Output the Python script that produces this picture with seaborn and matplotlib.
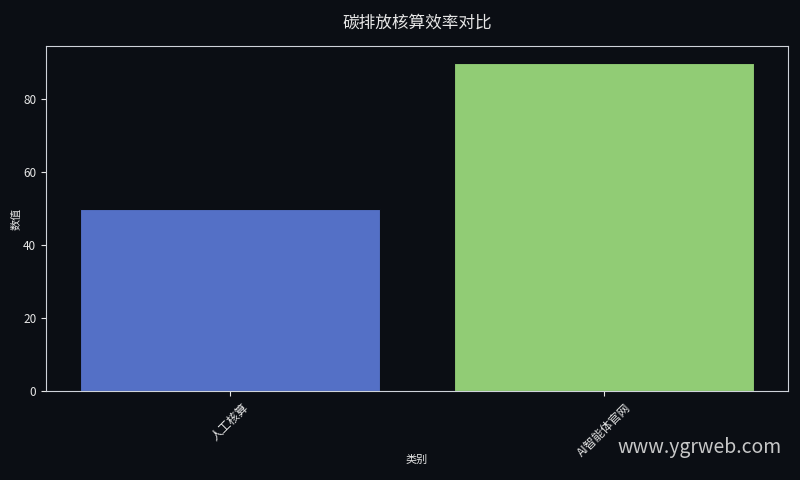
import matplotlib
matplotlib.use('Agg')
import matplotlib.pyplot as plt
import pandas as pd
import seaborn as sns

categories = ['人工核算', 'AI智能体官网']
values = [50, 90]
colors = ['#5470c6', '#91cc75']

bg = '#0b0e14'
fg = '#e6e6e6'

sns.set_style('dark')
plt.rcParams['font.family'] = ['Noto Sans CJK SC', 'DejaVu Sans']
plt.rcParams['axes.unicode_minus'] = False

df = pd.DataFrame({'类别': categories, '数值': values})

fig, ax = plt.subplots(figsize=(8, 4.8), dpi=100)
fig.patch.set_facecolor(bg)
ax.set_facecolor(bg)

sns.barplot(data=df, x='类别', y='数值', hue='类别', palette=colors,
            legend=False, ax=ax, edgecolor=bg, linewidth=0.8, saturation=1)
ax.set_xlim(-0.49, len(categories) - 0.51)

ax.set_title('碳排放核算效率对比', color=fg, fontsize=12, pad=13)
ax.set_xlabel('类别', color=fg, fontsize=8)
ax.xaxis.set_label_coords(0.5, -0.185)
ax.set_ylabel('数值', color=fg, fontsize=8, labelpad=1)
ax.tick_params(colors=fg, labelsize=8.5, length=3.5, width=0.8,
               bottom=True, left=True)
plt.setp(ax.get_xticklabels(), rotation=45)
for s in ax.spines.values():
    s.set_visible(True)
    s.set_color('#cfd3da')
    s.set_linewidth(0.8)
ax.grid(False)

fig.text(0.977, 0.045, 'www.ygrweb.com', color='#dcdcdc', fontsize=14,
         ha='right', va='bottom', alpha=0.9)

fig.subplots_adjust(left=0.0575, right=0.985, top=0.904, bottom=0.185)
fig.savefig('out.png', dpi=100, facecolor=bg)
